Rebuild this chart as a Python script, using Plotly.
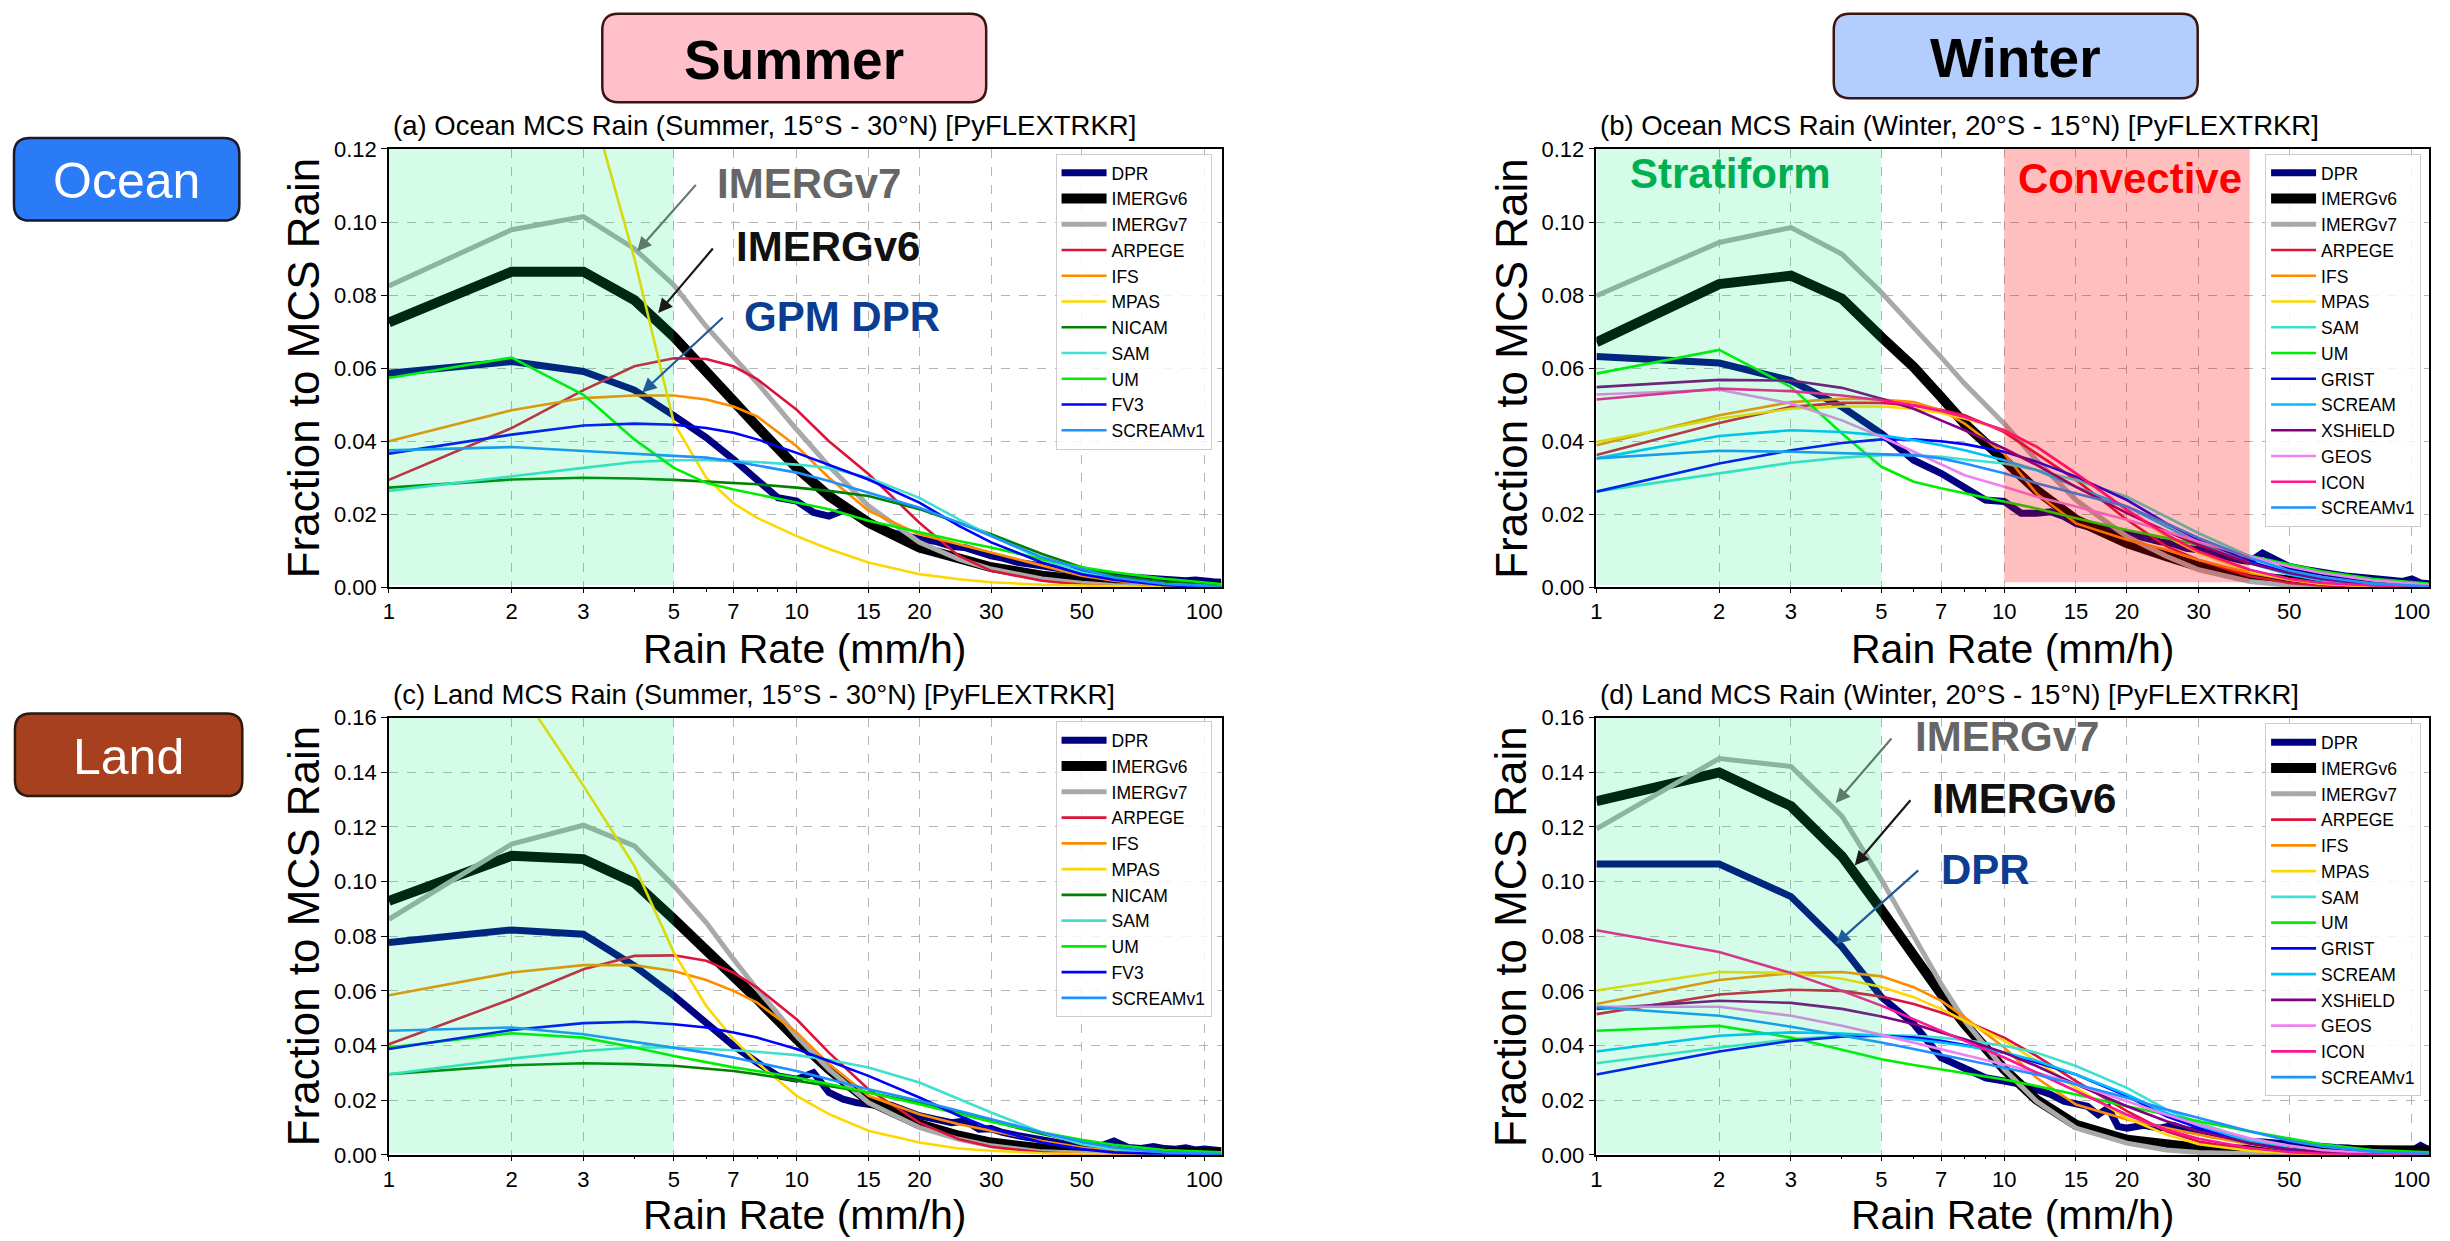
import plotly.graph_objects as go

W, H = 2450, 1241
FONT = "Liberation Sans, Arial, Helvetica, sans-serif"

# ---------------- data ----------------
X_MODEL = [1, 2, 3, 4, 5, 6, 7, 8, 10, 12, 15, 20, 25, 30, 40, 50, 60, 80, 110]
X_DPR = [1, 2, 3, 4, 5, 6, 7, 8, 9, 10, 11, 12, 13, 14, 15, 16, 17, 18, 19, 20,
         22, 24, 26, 28, 30, 32, 35, 38, 40, 43, 46, 50,
         55, 60, 65, 70, 75, 80, 85, 90, 95, 100, 105, 110]

XTICK_VALS = [1, 2, 3, 5, 7, 10, 15, 20, 30, 50, 100]
XTICK_TEXT = ["1", "2", "3", "5", "7", "10", "15", "20", "30", "50", "100"]
XMINOR_VALS = [4, 6, 8, 9, 40, 60, 70, 80, 90]

STRATIFORM_RANGE = [1, 5]
CONVECTIVE_RANGE = [10, 40]

# (a) Ocean Summer
A_DPR = [0.0586, 0.0618, 0.0591, 0.054, 0.047, 0.041, 0.035, 0.0295, 0.0245, 0.0236, 0.0205, 0.0195, 0.021, 0.020,
         0.0177, 0.0165, 0.0150, 0.0145, 0.0138, 0.0132, 0.0125, 0.0112, 0.0108, 0.0095, 0.0086, 0.0080, 0.0068,
         0.0062, 0.0058, 0.0050, 0.0045, 0.0040, 0.0034, 0.0031, 0.0028, 0.0026, 0.0022, 0.0024, 0.0020, 0.0018,
         0.0020, 0.0016, 0.0015, 0.0014]
A_IMERGV6 = [0.0725, 0.0864, 0.0864, 0.0786, 0.0686, 0.0595, 0.051, 0.044, 0.0327, 0.025, 0.0177, 0.0109, 0.0077, 0.0055, 0.0032, 0.0018, 0.0012, 0.0006, 0.0003]
A_IMERGV7 = [0.0825, 0.0979, 0.1015, 0.0927, 0.0827, 0.0714, 0.063, 0.056, 0.0432, 0.0332, 0.0223, 0.0123, 0.0077, 0.005, 0.0023, 0.0011, 0.0005, 0.0002, 0.0001]
A_ARPEGE = [0.0294, 0.0436, 0.054, 0.0605, 0.0627, 0.0625, 0.0605, 0.057, 0.0486, 0.040, 0.031, 0.0177, 0.0086, 0.0045, 0.0018, 0.0007, 0.0003, 0.0001, 0.0]
A_IFS = [0.040, 0.0485, 0.0518, 0.0525, 0.0525, 0.0514, 0.0495, 0.0468, 0.0386, 0.030, 0.021, 0.0145, 0.0118, 0.0095, 0.0059, 0.0032, 0.0018, 0.0006, 0.0002]
A_MPAS = [0.50, 0.25, 0.14, 0.090, 0.045, 0.030, 0.023, 0.019, 0.014, 0.0105, 0.0068, 0.0036, 0.0022, 0.0014, 0.0007, 0.0005, 0.0003, 0.0001, 0.0]
A_NICAM = [0.0273, 0.0295, 0.030, 0.0298, 0.0294, 0.029, 0.0286, 0.0282, 0.0273, 0.0264, 0.025, 0.0214, 0.0177, 0.0145, 0.0091, 0.0055, 0.0032, 0.0014, 0.0004]
A_SAM = [0.0264, 0.0305, 0.0327, 0.0343, 0.0348, 0.0348, 0.0345, 0.0343, 0.0336, 0.0327, 0.030, 0.0245, 0.0186, 0.0141, 0.0077, 0.0041, 0.0023, 0.0009, 0.0002]
A_UM = [0.0573, 0.0629, 0.0527, 0.0405, 0.0327, 0.0286, 0.0268, 0.0255, 0.0232, 0.0214, 0.0182, 0.015, 0.0127, 0.0109, 0.0077, 0.0055, 0.0041, 0.0023, 0.0009]
A_FV3 = [0.0366, 0.0418, 0.0443, 0.0448, 0.0445, 0.0436, 0.0423, 0.0405, 0.0368, 0.0336, 0.0295, 0.0232, 0.0168, 0.0123, 0.0068, 0.0036, 0.0021, 0.0006, 0.0001]
A_SCREAMV1 = [0.0375, 0.0384, 0.0373, 0.0366, 0.0361, 0.0355, 0.0345, 0.0334, 0.0314, 0.0291, 0.0259, 0.0218, 0.0177, 0.0141, 0.0082, 0.005, 0.0027, 0.0009, 0.0002]

# (b) Ocean Winter
B_DPR = [0.0632, 0.0614, 0.0566, 0.0494, 0.0421, 0.0348, 0.0312, 0.0275, 0.0239, 0.0235, 0.0203, 0.0203, 0.0207, 0.0194,
         0.0175, 0.0166, 0.0162, 0.0166, 0.0153, 0.0148, 0.0135, 0.0125, 0.0119, 0.0107, 0.0103, 0.0094, 0.0085,
         0.0074, 0.0071, 0.0094, 0.0077, 0.0057, 0.0048, 0.0039, 0.0035, 0.0030, 0.0028, 0.0023, 0.0021, 0.0019,
         0.0016, 0.0023, 0.0012, 0.0010]
B_IMERGV6 = [0.0671, 0.083, 0.0853, 0.079, 0.0685, 0.0603, 0.0521, 0.0448, 0.0348, 0.0266, 0.0185, 0.0121, 0.0085, 0.0057, 0.003, 0.0016, 0.001, 0.0005, 0.0003]
B_IMERGV7 = [0.0798, 0.0944, 0.0985, 0.0912, 0.0807, 0.0712, 0.063, 0.0557, 0.0448, 0.0348, 0.0239, 0.0139, 0.0085, 0.0048, 0.0016, 0.0005, 0.0002, 0.0001, 0.0]
B_ARPEGE = [0.0362, 0.045, 0.0494, 0.0505, 0.0505, 0.0498, 0.0486, 0.0471, 0.0425, 0.0366, 0.0294, 0.0185, 0.0112, 0.0075, 0.003, 0.0012, 0.0005, 0.0001, 0.0]
B_IFS = [0.0389, 0.0471, 0.0507, 0.0516, 0.0514, 0.0507, 0.0485, 0.0448, 0.0366, 0.0257, 0.0175, 0.013, 0.0103, 0.0075, 0.0039, 0.0021, 0.001, 0.0003, 0.0001]
B_MPAS = [0.0398, 0.0462, 0.0489, 0.0495, 0.0495, 0.0489, 0.0477, 0.0462, 0.043, 0.0385, 0.0312, 0.0212, 0.0139, 0.0094, 0.0044, 0.0021, 0.001, 0.0003, 0.0001]
B_SAM = [0.0262, 0.0312, 0.0341, 0.0355, 0.0362, 0.0362, 0.0357, 0.035, 0.0339, 0.0321, 0.0294, 0.0248, 0.0194, 0.0148, 0.0085, 0.0044, 0.0025, 0.001, 0.0003]
B_UM = [0.0585, 0.065, 0.0548, 0.0421, 0.033, 0.0289, 0.0271, 0.0257, 0.0235, 0.0216, 0.0189, 0.0157, 0.0135, 0.0116, 0.0085, 0.0062, 0.0044, 0.0023, 0.001]
B_GRIST = [0.0262, 0.0339, 0.0375, 0.0395, 0.0405, 0.0405, 0.04, 0.0392, 0.0371, 0.0344, 0.0303, 0.0239, 0.0175, 0.013, 0.0071, 0.0039, 0.0023, 0.0007, 0.0002]
B_SCREAM = [0.0353, 0.0414, 0.043, 0.0425, 0.0416, 0.0403, 0.0389, 0.0375, 0.0348, 0.0321, 0.0275, 0.0221, 0.0166, 0.0121, 0.0066, 0.0035, 0.0019, 0.0006, 0.0002]
B_XSHIELD = [0.0548, 0.0568, 0.0566, 0.0546, 0.0516, 0.0489, 0.0457, 0.043, 0.038, 0.0335, 0.0275, 0.0203, 0.0153, 0.0116, 0.0066, 0.0039, 0.0023, 0.0007, 0.0002]
B_GEOS = [0.0528, 0.0541, 0.0503, 0.0457, 0.0412, 0.0371, 0.0335, 0.0307, 0.0275, 0.0248, 0.0221, 0.0185, 0.0153, 0.0125, 0.0085, 0.0057, 0.0039, 0.0019, 0.0007]
B_ICON = [0.0514, 0.0544, 0.0537, 0.0525, 0.0512, 0.0498, 0.0483, 0.0466, 0.043, 0.0385, 0.0312, 0.0212, 0.0144, 0.0098, 0.0048, 0.0023, 0.0012, 0.0005, 0.0001]
B_SCREAMV1 = [0.0353, 0.0374, 0.0371, 0.0368, 0.0365, 0.0362, 0.0353, 0.0339, 0.0312, 0.0285, 0.0257, 0.0221, 0.0175, 0.0135, 0.008, 0.0046, 0.0028, 0.001, 0.0003]

# (c) Land Summer
C_DPR = [0.0777, 0.0823, 0.0807, 0.0691, 0.0582, 0.0484, 0.0399, 0.0338, 0.0289, 0.0277, 0.0301, 0.0228, 0.0204, 0.0191,
         0.0185, 0.0179, 0.0182, 0.0167, 0.0155, 0.0143, 0.0130, 0.0118, 0.0124, 0.0094, 0.0096, 0.0082, 0.0070,
         0.0060, 0.0051, 0.0048, 0.0039, 0.0035, 0.0030, 0.0051, 0.0027, 0.0023, 0.0030, 0.0023, 0.0021, 0.0026,
         0.0018, 0.0021, 0.0016, 0.0015]
C_IMERGV6 = [0.0929, 0.1094, 0.1082, 0.0996, 0.0862, 0.0752, 0.0655, 0.057, 0.0423, 0.0313, 0.0198, 0.0112, 0.007, 0.0045, 0.0023, 0.0015, 0.0011, 0.0009, 0.0009]
C_IMERGV7 = [0.0862, 0.1137, 0.1206, 0.113, 0.0984, 0.085, 0.0716, 0.0606, 0.0435, 0.0313, 0.0191, 0.01, 0.0057, 0.0033, 0.0011, 0.0005, 0.0002, 0.0001, 0.0]
C_ARPEGE = [0.0405, 0.057, 0.0679, 0.0728, 0.073, 0.071, 0.0667, 0.0612, 0.0496, 0.0374, 0.024, 0.0118, 0.0057, 0.003, 0.0009, 0.0002, 0.0001, 0.0, 0.0]
C_IFS = [0.0584, 0.0667, 0.0694, 0.0694, 0.0673, 0.064, 0.06, 0.0557, 0.0448, 0.0332, 0.0216, 0.0149, 0.0112, 0.0088, 0.0051, 0.0027, 0.0015, 0.0005, 0.0001]
C_MPAS = [0.40, 0.1745, 0.135, 0.1057, 0.074, 0.0545, 0.0423, 0.0338, 0.0216, 0.0149, 0.0088, 0.0045, 0.0023, 0.0015, 0.0006, 0.0002, 0.0001, 0.0, 0.0]
C_NICAM = [0.0295, 0.0328, 0.0335, 0.0332, 0.0326, 0.0316, 0.0307, 0.0295, 0.0271, 0.0252, 0.0228, 0.0191, 0.0155, 0.0124, 0.0076, 0.0045, 0.0027, 0.0011, 0.0005]
C_SAM = [0.0295, 0.0352, 0.038, 0.0393, 0.0393, 0.0389, 0.0383, 0.0377, 0.0365, 0.0348, 0.032, 0.0265, 0.0204, 0.0155, 0.0082, 0.0039, 0.0021, 0.0006, 0.0001]
C_UM = [0.0393, 0.0445, 0.0429, 0.0393, 0.0362, 0.0338, 0.032, 0.0307, 0.0283, 0.0259, 0.0228, 0.0185, 0.0149, 0.0121, 0.0082, 0.0055, 0.0037, 0.0018, 0.0009]
C_FV3 = [0.0387, 0.0457, 0.0482, 0.0487, 0.0478, 0.0466, 0.0448, 0.0429, 0.0387, 0.0344, 0.0289, 0.021, 0.0143, 0.0096, 0.0045, 0.0021, 0.0009, 0.0002, 0.0]
C_SCREAMV1 = [0.0454, 0.0466, 0.0441, 0.0413, 0.0393, 0.0374, 0.0356, 0.0338, 0.0307, 0.0277, 0.024, 0.0198, 0.0161, 0.013, 0.0082, 0.0048, 0.0027, 0.0009, 0.0003]

# (d) Land Winter
D_DPR = [0.1064, 0.1064, 0.0945, 0.0761, 0.0577, 0.0479, 0.0356, 0.0319, 0.0282, 0.0270, 0.0258, 0.0239, 0.0221, 0.0196,
         0.0184, 0.0178, 0.0147, 0.0172, 0.0104, 0.0098, 0.0108, 0.0098, 0.0108, 0.0092, 0.0086, 0.0074, 0.0067,
         0.0055, 0.0049, 0.0047, 0.0043, 0.0039, 0.0034, 0.0031, 0.0027, 0.0025, 0.0020, 0.0022, 0.0017, 0.0015,
         0.0016, 0.0015, 0.0034, 0.0018]
D_IMERGV6 = [0.1294, 0.1399, 0.1276, 0.1092, 0.0896, 0.0724, 0.0589, 0.0479, 0.0313, 0.0202, 0.011, 0.0055, 0.0034, 0.0025, 0.0018, 0.0016, 0.0015, 0.0015, 0.0016]
D_IMERGV7 = [0.1193, 0.145, 0.1421, 0.1239, 0.1006, 0.0798, 0.0626, 0.0491, 0.0313, 0.0196, 0.0098, 0.0043, 0.0018, 0.0009, 0.0002, 0.0001, 0.0, 0.0, 0.0]
D_ARPEGE = [0.0515, 0.0587, 0.0604, 0.06, 0.0579, 0.0552, 0.0521, 0.0491, 0.0429, 0.0362, 0.027, 0.016, 0.0086, 0.0049, 0.0018, 0.0006, 0.0002, 0.0, 0.0]
D_IFS = [0.0552, 0.064, 0.0665, 0.0669, 0.0653, 0.0613, 0.0564, 0.0503, 0.0393, 0.0282, 0.0184, 0.0129, 0.0098, 0.0074, 0.0039, 0.0018, 0.0009, 0.0002, 0.0]
D_MPAS = [0.0601, 0.0669, 0.0665, 0.0644, 0.0614, 0.0577, 0.0534, 0.0491, 0.0417, 0.0344, 0.0245, 0.0135, 0.0074, 0.0039, 0.0015, 0.0006, 0.0002, 0.0, 0.0]
D_SAM = [0.0335, 0.0393, 0.0423, 0.0436, 0.0438, 0.0436, 0.0429, 0.042, 0.0399, 0.0374, 0.0325, 0.0245, 0.0166, 0.0117, 0.0055, 0.0025, 0.0012, 0.0003, 0.0]
D_UM = [0.0454, 0.0472, 0.0429, 0.0383, 0.035, 0.0329, 0.0313, 0.0297, 0.0276, 0.0252, 0.0221, 0.0178, 0.0147, 0.0123, 0.0086, 0.0059, 0.0039, 0.0018, 0.0009]
D_GRIST = [0.0294, 0.0378, 0.0417, 0.0432, 0.0436, 0.0429, 0.0417, 0.0402, 0.0374, 0.0337, 0.0294, 0.0215, 0.0141, 0.0098, 0.0043, 0.0018, 0.0009, 0.0002, 0.0]
D_SCREAM = [0.0378, 0.0436, 0.0448, 0.0444, 0.0436, 0.0423, 0.0411, 0.0399, 0.0374, 0.0344, 0.0294, 0.0221, 0.0153, 0.0108, 0.0049, 0.0022, 0.001, 0.0002, 0.0]
D_XSHIELD = [0.0534, 0.0564, 0.0556, 0.0534, 0.0506, 0.0479, 0.0448, 0.0423, 0.0374, 0.0325, 0.0258, 0.0178, 0.0123, 0.0086, 0.0043, 0.0021, 0.001, 0.0002, 0.0]
D_GEOS = [0.0542, 0.0542, 0.0509, 0.0472, 0.0439, 0.0411, 0.0387, 0.0366, 0.0331, 0.0301, 0.0258, 0.0196, 0.0147, 0.011, 0.0061, 0.0034, 0.0018, 0.0006, 0.0001]
D_ICON = [0.0822, 0.0742, 0.0665, 0.06, 0.0546, 0.0497, 0.0454, 0.0417, 0.0356, 0.0301, 0.0233, 0.0147, 0.0092, 0.0059, 0.0025, 0.001, 0.0004, 0.0001, 0.0]
D_SCREAMV1 = [0.054, 0.0509, 0.0469, 0.0436, 0.0411, 0.0387, 0.0366, 0.035, 0.0319, 0.0294, 0.0258, 0.0209, 0.0166, 0.0135, 0.0086, 0.0052, 0.0031, 0.0012, 0.0004]

COLORS = {
    "DPR": "#000080", "IMERGv6": "#000000", "IMERGv7": "#a9a9a9",
    "ARPEGE": "#dc143c", "IFS": "#ff8c00", "MPAS": "#ffd700", "NICAM": "#008000",
    "SAM": "#40e0d0", "UM": "#00ee00", "FV3": "#0000ff", "GRIST": "#0000ff",
    "SCREAM": "#00bfff", "XSHiELD": "#800080", "GEOS": "#ee82ee", "ICON": "#ff1493",
    "SCREAMv1": "#1e90ff",
}
WIDTHS = {"DPR": 7, "IMERGv6": 10, "IMERGv7": 5}

PANELS = [
    dict(obs=A_DPR, models=[("IMERGv6", A_IMERGV6), ("IMERGv7", A_IMERGV7), ("ARPEGE", A_ARPEGE), ("IFS", A_IFS),
                            ("MPAS", A_MPAS), ("NICAM", A_NICAM), ("SAM", A_SAM), ("UM", A_UM), ("FV3", A_FV3),
                            ("SCREAMv1", A_SCREAMV1)],
         ymax=0.12, title="(a) Ocean MCS Rain (Summer, 15°S - 30°N) [PyFLEXTRKR]"),
    dict(obs=B_DPR, models=[("IMERGv6", B_IMERGV6), ("IMERGv7", B_IMERGV7), ("ARPEGE", B_ARPEGE), ("IFS", B_IFS),
                            ("MPAS", B_MPAS), ("SAM", B_SAM), ("UM", B_UM), ("GRIST", B_GRIST), ("SCREAM", B_SCREAM),
                            ("XSHiELD", B_XSHIELD), ("GEOS", B_GEOS), ("ICON", B_ICON), ("SCREAMv1", B_SCREAMV1)],
         ymax=0.12, title="(b) Ocean MCS Rain (Winter, 20°S - 15°N) [PyFLEXTRKR]"),
    dict(obs=C_DPR, models=[("IMERGv6", C_IMERGV6), ("IMERGv7", C_IMERGV7), ("ARPEGE", C_ARPEGE), ("IFS", C_IFS),
                            ("MPAS", C_MPAS), ("NICAM", C_NICAM), ("SAM", C_SAM), ("UM", C_UM), ("FV3", C_FV3),
                            ("SCREAMv1", C_SCREAMV1)],
         ymax=0.16, title="(c) Land MCS Rain (Summer, 15°S - 30°N) [PyFLEXTRKR]"),
    dict(obs=D_DPR, models=[("IMERGv6", D_IMERGV6), ("IMERGv7", D_IMERGV7), ("ARPEGE", D_ARPEGE), ("IFS", D_IFS),
                            ("MPAS", D_MPAS), ("SAM", D_SAM), ("UM", D_UM), ("GRIST", D_GRIST), ("SCREAM", D_SCREAM),
                            ("XSHiELD", D_XSHIELD), ("GEOS", D_GEOS), ("ICON", D_ICON), ("SCREAMv1", D_SCREAMV1)],
         ymax=0.16, title="(d) Land MCS Rain (Winter, 20°S - 15°N) [PyFLEXTRKR]"),
]

# ---------------- layout geometry ----------------
# Target positions are given in pixels of the final picture; the page is photographed with a
# slight vertical squeeze (~0.986) and offset (~9 px), which is compensated here.
VS, VOFF = 0.9858, 9.2


def px(x):
    return x / W


def dy(t):
    return (t - VOFF) / VS


def py(t):
    return 1 - dy(t) / H


X_DOMS = [(384, 1219), (1595, 2430), (384, 1219), (1595, 2430)]
Y_DOMS = [(147, 588), (147, 588), (719, 1159), (719, 1159)]
LEG_POS = [(1209, 152), (2422, 152), (1209, 723), (2422, 725)]
XTITLE_Y = [650, 650, 1219, 1219]

fig = go.Figure()
layout = dict(width=W, height=H, margin=dict(l=0, r=0, t=0, b=0),
              paper_bgcolor="white", plot_bgcolor="white",
              font=dict(family=FONT, color="black"), showlegend=True)

shapes = []
annotations = []

for i, p in enumerate(PANELS):
    n = i + 1
    sfx = "" if n == 1 else str(n)
    xa, ya = "x" + sfx, "y" + sfx
    leg = "legend" + sfx
    fig.add_trace(go.Scatter(x=X_DPR, y=p["obs"], mode="lines", name="DPR", xaxis=xa, yaxis=ya,
                             line=dict(color=COLORS["DPR"], width=WIDTHS["DPR"]), legend=leg))
    for name, vals in p["models"]:
        fig.add_trace(go.Scatter(x=X_MODEL, y=vals, mode="lines", name=name, xaxis=xa, yaxis=ya,
                                 line=dict(color=COLORS[name], width=WIDTHS.get(name, 2.6)), legend=leg))
    x0, x1 = X_DOMS[i]
    y0, y1 = Y_DOMS[i]
    layout["xaxis" + sfx] = dict(
        domain=[px(x0), px(x1)], anchor=ya, type="log", range=[0, 2.042],
        tickmode="array", tickvals=XTICK_VALS, ticktext=XTICK_TEXT,
        ticks="outside", ticklen=4, tickwidth=1.2, tickcolor="black",
        tickfont=dict(size=22, family=FONT),
        showline=True, mirror=True, linecolor="black", linewidth=1.5,
        showgrid=True, gridcolor="#b5b5b5", griddash="dash", gridwidth=1, zeroline=False,
        minor=dict(tickmode="array", tickvals=XMINOR_VALS, ticks="outside", ticklen=2.5,
                   tickcolor="black", showgrid=False),
    )
    layout["yaxis" + sfx] = dict(
        domain=[py(y1), py(y0)], anchor=xa, range=[0, p["ymax"]], dtick=0.02, tickformat=".2f",
        ticks="outside", ticklen=6, tickwidth=1.2, tickcolor="black",
        tickfont=dict(size=22, family=FONT),
        showline=True, mirror=True, linecolor="black", linewidth=1.5,
        showgrid=True, gridcolor="#b5b5b5", griddash="dash", gridwidth=1, zeroline=False,
    )
    lx, ly = LEG_POS[i]
    layout[leg] = dict(x=px(lx), y=py(ly), xanchor="right", yanchor="top",
                       bgcolor="rgba(255,255,255,0.85)", bordercolor="#cccccc", borderwidth=1,
                       font=dict(size=17.5, family=FONT), tracegroupgap=0, itemwidth=45)
    shapes.append(dict(type="rect", xref=xa, yref=ya, x0=STRATIFORM_RANGE[0], x1=STRATIFORM_RANGE[1],
                       y0=0.0006, y1=p["ymax"], fillcolor="rgba(0,235,115,0.165)",
                       line=dict(width=0), layer="above"))
    annotations.append(dict(text=p["title"], xref="paper", yref="paper", x=px(x0 + 2), y=py(y0 - 6),
                            xanchor="left", yanchor="bottom", showarrow=False,
                            font=dict(size=27.5, family=FONT, color="black")))
    annotations.append(dict(text="Rain Rate (mm/h)", xref="paper", yref="paper", x=px((x0 + x1) / 2),
                            y=py(XTITLE_Y[i]), xanchor="center", yanchor="middle", showarrow=False,
                            font=dict(size=41, family=FONT, color="black")))
    annotations.append(dict(text="Fraction to MCS Rain", xref="paper", yref="paper", x=px(x0 - 86),
                            y=py((y0 + y1) / 2), xanchor="center", yanchor="middle", showarrow=False,
                            textangle=-90, font=dict(size=44, family=FONT, color="black")))

shapes.append(dict(type="rect", xref="x2", yref="y2", x0=CONVECTIVE_RANGE[0], x1=CONVECTIVE_RANGE[1],
                   y0=0.0014, y1=0.12, fillcolor="rgba(255,0,0,0.25)", line=dict(width=0), layer="above"))


def rrect(x0, y0, x1, y1, r):
    def X(v):
        return f"{px(v):.5f}"

    def Y(v):
        return f"{py(v):.5f}"

    return (f"M {X(x0 + r)},{Y(y0)} L {X(x1 - r)},{Y(y0)} Q {X(x1)},{Y(y0)} {X(x1)},{Y(y0 + r)} "
            f"L {X(x1)},{Y(y1 - r)} Q {X(x1)},{Y(y1)} {X(x1 - r)},{Y(y1)} "
            f"L {X(x0 + r)},{Y(y1)} Q {X(x0)},{Y(y1)} {X(x0)},{Y(y1 - r)} "
            f"L {X(x0)},{Y(y0 + r)} Q {X(x0)},{Y(y0)} {X(x0 + r)},{Y(y0)} Z")


BOXES = [
    ("Summer", (598, 11, 983, 100), "#ffc0cb", "#3d1510", "black", 55, True),
    ("Winter", (1833, 11, 2198, 96), "#b3cdfe", "#3d1510", "black", 55, True),
    ("Ocean", (8, 136, 234, 219), "#2b7bf7", "#1a1a2a", "white", 50, False),
    ("Land", (9, 715, 237, 798), "#a6401e", "#2a1a10", "white", 50, False),
]
for text, (bx0, by0, bx1, by1), fill, edge, tcol, fsize, bold in BOXES:
    shapes.append(dict(type="path", xref="paper", yref="paper", path=rrect(bx0, by0, bx1, by1, 16),
                       fillcolor=fill, line=dict(color=edge, width=2.5), layer="below"))
    annotations.append(dict(text=f"<b>{text}</b>" if bold else text, xref="paper", yref="paper",
                            x=px((bx0 + bx1) / 2), y=py((by0 + by1) / 2 + 2), xanchor="center",
                            yanchor="middle", showarrow=False,
                            font=dict(size=fsize, family=FONT, color=tcol)))

LABELS = [
    ("IMERGv7", 711, 182, "#666666"), ("IMERGv6", 730, 245, "#111111"), ("GPM DPR", 738, 316, "#0b3d91"),
    ("Stratiform", 1627, 172, "#00b050"), ("Convective", 2016, 177, "#ff0000"),
    ("IMERGv7", 1912, 738, "#666666"), ("IMERGv6", 1930, 800, "#111111"), ("DPR", 1939, 872, "#0b3d91"),
]
for text, lx, ly, col in LABELS:
    annotations.append(dict(text=f"<b>{text}</b>", xref="paper", yref="paper", x=px(lx), y=py(ly),
                            xanchor="left", yanchor="middle", showarrow=False,
                            font=dict(size=42, family=FONT, color=col)))

ARROWS = [
    ((693, 183), (633, 250), "#5d7a6a"), ((710, 247), (654, 312), "#1a1a1a"), ((720, 317), (638, 392), "#1f5c99"),
    ((1892, 740), (1835, 805), "#5d7a6a"), ((1911, 802), (1854, 868), "#1a1a1a"), ((1919, 873), (1835, 947), "#1f5c99"),
]
for (tx, ty), (hx, hy), col in ARROWS:
    annotations.append(dict(text="", xref="paper", yref="paper", x=px(hx), y=py(hy), ax=tx - hx,
                            ay=dy(ty) - dy(hy), axref="pixel", ayref="pixel", showarrow=True, arrowhead=2,
                            arrowsize=1.3, arrowwidth=2.2, arrowcolor=col, standoff=0, startstandoff=0))

layout["shapes"] = shapes
layout["annotations"] = annotations
fig.update_layout(**layout)
fig.write_html("out.html")
